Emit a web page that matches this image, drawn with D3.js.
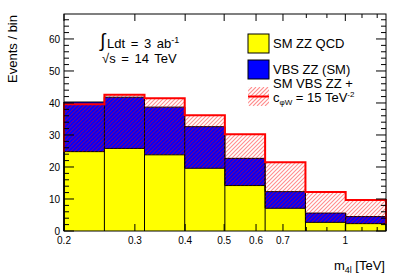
<!DOCTYPE html>
<html>
<head>
<meta charset="utf-8">
<script src="https://cdn.jsdelivr.net/npm/d3@7"></script>
<style>
  body { margin: 0; background: #fff; }
  text { font-family: "Liberation Sans", Arial, sans-serif; fill: #000; }
</style>
</head>
<body>
<script>
// bin edges in TeV (log-spaced bins)
const binEdges = [0.2, 0.252, 0.317, 0.399, 0.502, 0.632, 0.796, 1.002, 1.262];
// events per bin
const qcdZZ = [24.8, 25.8, 23.8, 19.6, 14.2, 7.1, 2.7, 2.3];
const vbsSM = [15.5, 16.0, 14.9, 13.0, 8.5, 5.2, 2.9, 2.2];
const vbsBSM = [14.8, 16.8, 17.7, 16.6, 16.0, 14.4, 9.5, 7.4];
const xTickVals = [0.2, 0.3, 0.4, 0.5, 0.6, 0.7, 0.8, 0.9, 1, 1.1, 1.2];
const xTickLabels = ["0.2", "0.3", "0.4", "0.5", "0.6", "0.7", "", "", "1", "", ""];
const yTickVals = [0, 10, 20, 30, 40, 50, 60];

const WIDTH = 407, HEIGHT = 276;
const L = 64, R = 386, T = 14, B = 231;

const svg = d3.select("body").append("svg")
  .attr("width", WIDTH).attr("height", HEIGHT);

const x = d3.scaleLog().domain([binEdges[0], binEdges[binEdges.length - 1]]).range([L, R]);
const y = d3.scaleLinear().domain([0, 67.8]).range([B, T]);

// build stacked tops
const bins = qcdZZ.map((q, i) => ({
  x0: binEdges[i], x1: binEdges[i + 1],
  qcd: q, sm: q + vbsSM[i], bsm: q + vbsBSM[i]
}));

function stepArea(lo, hi) {
  let pts = [];
  bins.forEach(b => { pts.push([x(b.x0), y(hi(b))], [x(b.x1), y(hi(b))]); });
  let back = [];
  bins.slice().reverse().forEach(b => { back.push([x(b.x1), y(lo(b))], [x(b.x0), y(lo(b))]); });
  return "M" + pts.concat(back).map(p => p.join(",")).join("L") + "Z";
}

function stepLine(lo, hi) {
  let pts = [[x(bins[0].x0), y(lo(bins[0]))]];
  bins.forEach(b => { pts.push([x(b.x0), y(hi(b))], [x(b.x1), y(hi(b))]); });
  const last = bins[bins.length - 1];
  pts.push([x(last.x1), y(lo(last))]);
  return "M" + pts.map(p => p.join(",")).join("L");
}

// hatch lines clipped to a region
const defs = svg.append("defs");
function hatch(parent, id, clipD, x0, y0, x1, y1) {
  defs.append("clipPath").attr("id", id).append("path").attr("d", clipD);
  const hg = parent.append("g").attr("clip-path", "url(#" + id + ")");
  for (let s = x0 - (y1 - y0); s < x1; s += 4) {
    hg.append("line")
      .attr("x1", s).attr("y1", y1).attr("x2", s + (y1 - y0)).attr("y2", y0)
      .style("stroke", "#ff0000").style("stroke-opacity", 0.45).style("stroke-width", "1.1px");
  }
}

const g = svg.append("g");

// yellow QCD
g.append("path").attr("d", stepArea(() => 0, b => b.qcd)).attr("fill", "#ffff00");
// blue VBS SM
g.append("path").attr("d", stepArea(b => b.qcd, b => b.sm)).attr("fill", "#0000ff");

// black outlines incl. verticals between bins
g.selectAll(".sep").data(bins).enter().append("line")
  .attr("x1", d => x(d.x0)).attr("x2", d => x(d.x0))
  .attr("y1", y(0)).attr("y2", (d, i) => y(Math.max(d.sm, i > 0 ? bins[i - 1].sm : 0)))
  .attr("stroke", "#000").attr("stroke-width", 1);
g.append("path").attr("d", stepLine(() => 0, b => b.qcd)).attr("fill", "none").attr("stroke", "#000");
g.append("path").attr("d", stepLine(() => 0, b => b.sm)).attr("fill", "none").attr("stroke", "#000");

// red hatched BSM
hatch(g, "bsmclip", stepArea(b => b.qcd, b => b.bsm), L, T, R, B);
g.append("path").attr("d", stepLine(b => b.qcd, b => b.bsm))
  .attr("fill", "none").attr("stroke", "#ff0000").attr("stroke-width", 2);

// frame
svg.append("rect").attr("x", L).attr("y", T).attr("width", R - L).attr("height", B - T)
  .attr("fill", "none").attr("stroke", "#000").attr("stroke-width", 1);

// ticks
const yMinor = d3.range(0, 68, 2);
const ax = svg.append("g").attr("stroke", "#000").attr("stroke-width", 1);
yMinor.forEach(v => {
  const len = v % 10 === 0 ? 10 : 5;
  ax.append("line").attr("x1", L).attr("x2", L + len).attr("y1", y(v)).attr("y2", y(v));
  ax.append("line").attr("x1", R).attr("x2", R - len).attr("y1", y(v)).attr("y2", y(v));
});
xTickVals.forEach((v, i) => {
  const len = xTickLabels[i] !== "" ? 7 : 4;
  ax.append("line").attr("x1", x(v)).attr("x2", x(v)).attr("y1", B).attr("y2", B - len);
  ax.append("line").attr("x1", x(v)).attr("x2", x(v)).attr("y1", T).attr("y2", T + len);
});

// tick labels
svg.selectAll(".yl").data(yTickVals).enter().append("text")
  .attr("x", L - 4).attr("y", d => y(d) + 3.6)
  .attr("text-anchor", "end").attr("font-size", 10).text(d => d);
svg.selectAll(".xl").data(xTickVals).enter().append("text")
  .attr("x", d => x(d)).attr("y", 244)
  .attr("text-anchor", "middle").attr("font-size", 10)
  .text((d, i) => xTickLabels[i]);

// axis titles
svg.append("text").attr("transform", "translate(17,15) rotate(-90)")
  .attr("text-anchor", "end").attr("font-size", 13).text("Events / bin");
const xt = svg.append("text").attr("x", 385).attr("y", 270)
  .attr("text-anchor", "end").attr("font-size", 13);
xt.append("tspan").text("m");
xt.append("tspan").attr("font-size", 9).attr("dy", 3).text("4l");
xt.append("tspan").attr("dy", -3).text(" [TeV]");

// luminosity / energy labels
svg.append("text").attr("x", 100).attr("y", 47).attr("font-size", 19)
  .attr("font-family", "DejaVu Sans").text("\u222B");
const lt = svg.append("text").attr("x", 107).attr("y", 48).attr("font-size", 13)
  .attr("word-spacing", 2);
lt.append("tspan").text("Ldt = 3 ab");
lt.append("tspan").attr("font-size", 9).attr("dy", -5).text("-1");
svg.append("text").attr("x", 102).attr("y", 63).attr("font-size", 13)
  .attr("word-spacing", 2).text("\u221As = 14 TeV");

// legend
const lg = svg.append("g");
lg.append("rect").attr("x", 248).attr("y", 34).attr("width", 21).attr("height", 19)
  .attr("fill", "#ffff00").attr("stroke", "#000");
lg.append("rect").attr("x", 248).attr("y", 60).attr("width", 21).attr("height", 19)
  .attr("fill", "#0000ff").attr("stroke", "#000");
hatch(lg, "legclip", "M248,87h21v19h-21Z", 248, 87, 269, 106);
lg.append("line").attr("x1", 248).attr("x2", 269).attr("y1", 96.5).attr("y2", 96.5)
  .attr("stroke", "#ff0000").attr("stroke-width", 2);
lg.append("text").attr("x", 273).attr("y", 48).attr("font-size", 13).text("SM ZZ QCD");
lg.append("text").attr("x", 273).attr("y", 74).attr("font-size", 13).text("VBS ZZ (SM)");
lg.append("text").attr("x", 273).attr("y", 88).attr("font-size", 13).text("SM VBS ZZ +");
const cl = lg.append("text").attr("x", 273).attr("y", 102).attr("font-size", 13);
cl.append("tspan").text("c");
cl.append("tspan").attr("font-size", 8).attr("dy", 3).text("\u03C6W");
cl.append("tspan").attr("dy", -3).text(" = 15 TeV");
cl.append("tspan").attr("font-size", 8).attr("dy", -5).text("-2");
</script>
</body>
</html>
